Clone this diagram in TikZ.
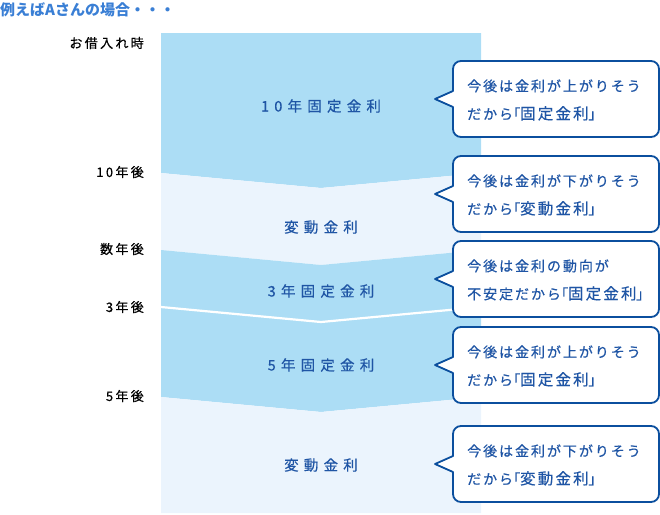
\documentclass[tikz,border=0pt]{standalone}
\usepackage{fontspec}
\setmainfont{Noto Sans CJK JP}
\newfontfamily\colfont{Noto Sans CJK JP}[LetterSpace=36,FakeBold=0.6]
\newfontfamily\bubfont{Noto Sans CJK JP}[LetterSpace=14,FakeBold=0.5]
\newfontfamily\labfont{Noto Sans CJK JP}[LetterSpace=18,FakeBold=0.6]
\newcommand\kakko[1]{{\addfontfeatures{RawFeature=+palt}「}{\fontsize{15.5}{28}\selectfont #1}{\addfontfeatures{RawFeature=+palt}」}}
\definecolor{lblue}{HTML}{ACDDF5}
\definecolor{pale}{HTML}{EBF4FD}
\definecolor{coltext}{HTML}{1F55A5}
\definecolor{bubline}{HTML}{0B4F9E}
\definecolor{titleblue}{HTML}{3A7FD5}
\tikzset{
  coltxt/.style={inner sep=0pt, text=coltext, font=\colfont\fontsize{14.5}{16}\selectfont},
  labtxt/.style={inner sep=0pt, anchor=east, text=black, font=\labfont\fontsize{13}{16}\selectfont},
  bubtxt/.style={inner sep=0pt, anchor=west, align=left, text=coltext, font=\bubfont\fontsize{14}{28}\selectfont},
  bubshape/.style={draw=bubline, line width=1.8pt, fill=white, line join=round},
}
\newcommand\bubble[3]{%
  \draw[bubshape] (453,#2-8) [rounded corners=8pt] -- (453,#2-38) -- (659,#2-38) -- (659,#2+38) -- (453,#2+38) [sharp corners] -- (453,#2+8) -- (435,#2) -- cycle;
  \node[bubtxt] (#1) at (467,#2+1) {#3};
}
\begin{document}
\begin{tikzpicture}[x=1pt,y=-1pt]
\useasboundingbox (0,0) rectangle (660,514);
% column segments
\fill[lblue] (161,33) -- (481,33) -- (481,173) -- (321,188) -- (161,173) -- cycle;
\fill[pale] (161,173) -- (321,188) -- (481,173) -- (481,250) -- (321,265) -- (161,250) -- cycle;
\fill[lblue] (161,250) -- (321,265) -- (481,250) -- (481,397) -- (321,412) -- (161,397) -- cycle;
\draw[white, line width=2.2pt] (161,307) -- (321,322) -- (481,307);
\fill[pale] (161,397) -- (321,412) -- (481,397) -- (481,513) -- (161,513) -- cycle;
% column texts
\node[coltxt] (s1) at (321,106) {10年固定金利};
\node[coltxt] (s2) at (321,227) {変動金利};
\node[coltxt] (s3) at (321,291) {3年固定金利};
\node[coltxt] (s4) at (321,365) {5年固定金利};
\node[coltxt] (s5) at (321,465) {変動金利};
% title
\node[inner sep=0pt, anchor=west, text=titleblue, font=\bfseries\fontsize{15}{17}\selectfont] (title) at (0,10) {例えばAさんの場合・・・};
% left labels
\node[labtxt] (l0) at (144,43) {お借入れ時};
\node[labtxt] (l1) at (144,172) {10年後};
\node[labtxt] (l2) at (144,249) {数年後};
\node[labtxt] (l3) at (144,307) {3年後};
\node[labtxt] (l4) at (144,396) {5年後};
% bubbles
\bubble{b1}{99}{今後は金利が上がりそう\\だから\kakko{固定金利}}
\bubble{b2}{194}{今後は金利が下がりそう\\だから\kakko{変動金利}}
\bubble{b3}{279}{今後は金利の動向が\\不安定だから\kakko{固定金利}}
\bubble{b4}{365}{今後は金利が上がりそう\\だから\kakko{固定金利}}
\bubble{b5}{464}{今後は金利が下がりそう\\だから\kakko{変動金利}}
\end{tikzpicture}
\end{document}
